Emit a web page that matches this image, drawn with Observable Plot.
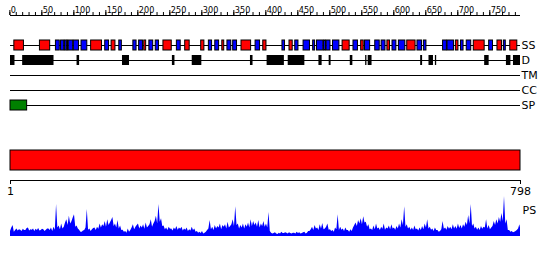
<!DOCTYPE html>
<html><head><meta charset="utf-8">
<script src="https://cdn.jsdelivr.net/npm/d3@7"></script>
<script src="https://cdn.jsdelivr.net/npm/@observablehq/plot@0.6"></script>
<style>
body{margin:0;background:#fff;}
#chart{position:relative;width:550px;height:260px;overflow:hidden;font-family:"DejaVu Sans",sans-serif;}
#chart svg{position:absolute;left:0;background:transparent;}
</style></head><body><div id="chart"></div>
<script>
const seqLength = 798;
const trackNames = ["SS","D","TM","CC","SP"];
const rulerLabels = [0,50,100,150,200,250,300,350,400,450,500,550,600,650,700,750];
const rulerMinor = d3.range(0, 791, 10);
const ssStart = [7,47,72,80,86,90,92,100,112,127,149,159,171,193,202,210,218,228,240,261,274,299,311,321,332,340,349,362,384,396,426,437,446,459,474,480,491,495,505,520,537,549,555,571,581,590,598,608,621,637,647,677,684,697,705,714,725,749,762,772,782];
const ssEnd   = [22,63,78,85,89,91,99,108,121,144,155,165,175,198,208,213,224,233,253,267,281,304,316,327,335,346,355,377,391,401,430,442,451,469,477,490,494,501,515,531,544,553,563,578,587,594,604,618,634,644,651,683,694,701,709,721,742,755,769,775,793];
const ssType  = ["H","H","E","E","E","H","E","E","E","H","E","H","E","E","E","H","E","E","H","E","H","H","E","E","H","E","E","H","E","H","E","H","E","E","E","E","E","E","E","H","E","H","E","E","E","H","E","E","H","E","E","E","E","H","E","E","H","E","H","E","H"];
const dStart = [1,20,105,176,254,285,376,402,435,483,499,532,556,560,642,655,665,742,776,787];
const dEnd   = [8,69,109,187,258,300,380,429,461,488,502,536,558,566,645,662,667,749,783,798];
const spStart = [1];
const spEnd = [27];
const psStep = 2;
const psValues = [
0.12,0.20,0.26,0.10,0.14,0.18,0.13,0.16,0.15,0.12,0.17,0.14,0.14,0.19,0.20,0.13,0.16,0.15,0.18,0.12,
0.17,0.14,0.19,0.13,0.14,0.17,0.16,0.12,0.15,0.18,0.18,0.14,0.20,0.12,0.22,0.15,0.76,0.20,0.25,0.16,
0.30,0.18,0.22,0.32,0.40,0.26,0.48,0.30,0.35,0.44,0.52,0.22,0.25,0.18,0.15,0.10,0.10,0.13,0.14,0.20,
0.64,0.15,0.18,0.12,0.16,0.19,0.20,0.14,0.22,0.17,0.30,0.20,0.28,0.24,0.36,0.22,0.40,0.26,0.32,0.38,
0.45,0.24,0.30,0.20,0.38,0.18,0.25,0.14,0.15,0.10,0.12,0.08,0.18,0.10,0.14,0.20,0.28,0.16,0.22,0.26,
0.30,0.18,0.25,0.20,0.28,0.17,0.32,0.20,0.24,0.28,0.40,0.22,0.30,0.36,0.48,0.30,0.76,0.34,0.42,0.24,
0.25,0.16,0.20,0.14,0.22,0.17,0.18,0.13,0.20,0.16,0.24,0.15,0.20,0.17,0.22,0.13,0.18,0.15,0.20,0.12,
0.16,0.13,0.22,0.14,0.18,0.10,0.12,0.08,0.10,0.07,0.12,0.06,0.08,0.10,0.14,0.18,0.38,0.16,0.22,0.14,
0.26,0.18,0.24,0.20,0.30,0.16,0.26,0.22,0.28,0.18,0.34,0.20,0.24,0.28,0.40,0.24,0.71,0.26,0.30,0.18,
0.26,0.20,0.30,0.18,0.28,0.22,0.32,0.20,0.40,0.24,0.36,0.26,0.32,0.22,0.38,0.20,0.30,0.24,0.36,0.22,
0.30,0.20,0.57,0.12,0.08,0.06,0.07,0.09,0.06,0.05,0.08,0.06,0.10,0.07,0.07,0.09,0.08,0.06,0.09,0.07,
0.06,0.08,0.08,0.06,0.10,0.07,0.09,0.06,0.07,0.09,0.10,0.06,0.08,0.12,0.12,0.16,0.22,0.14,0.26,0.18,
0.20,0.14,0.28,0.18,0.31,0.16,0.18,0.22,0.30,0.15,0.16,0.12,0.14,0.10,0.20,0.16,0.52,0.14,0.22,0.15,
0.18,0.12,0.20,0.14,0.14,0.10,0.16,0.12,0.20,0.26,0.32,0.24,0.38,0.30,0.42,0.28,0.47,0.32,0.34,0.22,
0.28,0.16,0.18,0.14,0.25,0.16,0.30,0.18,0.20,0.14,0.22,0.17,0.30,0.15,0.20,0.18,0.25,0.16,0.28,0.18,
0.20,0.15,0.24,0.18,0.30,0.20,0.40,0.26,0.71,0.22,0.28,0.18,0.22,0.15,0.20,0.14,0.25,0.16,0.18,0.13,
0.20,0.14,0.24,0.16,0.30,0.20,0.40,0.18,0.22,0.15,0.18,0.12,0.20,0.14,0.14,0.10,0.12,0.16,0.36,0.17,
0.20,0.15,0.24,0.17,0.22,0.16,0.28,0.18,0.24,0.17,0.30,0.19,0.26,0.18,0.28,0.22,0.34,0.26,0.50,0.30,
0.76,0.24,0.30,0.18,0.22,0.15,0.20,0.14,0.24,0.17,0.22,0.20,0.40,0.18,0.26,0.16,0.20,0.24,0.36,0.26,
0.40,0.30,0.45,0.34,0.55,0.36,0.95,0.30,0.40,0.14,0.14,0.10,0.12,0.09,0.10,0.12,0.14,0.18,0.28,0.20];

const ss = ssStart.map((s,i)=>({start:s,end:ssEnd[i],type:ssType[i]}));
const dis = dStart.map((s,i)=>({start:s,end:dEnd[i]}));
const sp = spStart.map((s,i)=>({start:s,end:spEnd[i]}));
const ps = psValues.map((v,i)=>({pos:Math.min(1+i*psStep, seqLength), v}));

const xScale = {domain:[1,seqLength], range:[10,520]};
const font = "DejaVu Sans, sans-serif";
const narrow = "'DejaVu Sans Condensed', 'Liberation Sans', sans-serif";
const chart = document.getElementById("chart");
function place(svg, top){ svg.style.top = top+"px"; chart.appendChild(svg); }

// ruler
place(Plot.plot({
  width:550, height:16, marginTop:0, marginBottom:1, marginLeft:10, marginRight:30,
  x:{...xScale, axis:null}, y:{domain:[0,1], range:[15,0], axis:null},
  style:{background:"transparent", fontFamily:narrow, fontSize:"9px", color:"black"},
  marks:[
    Plot.ruleY([0],{stroke:"black"}),
    Plot.tickX(rulerMinor,{x:d=>d, insetTop:12, stroke:"black"}),
    Plot.tickX(rulerLabels,{x:d=>d, insetTop:10, stroke:"black"}),
    Plot.text(rulerLabels,{x:d=>d, text:d=>String(d), frameAnchor:"bottom", textAnchor:"start", lineAnchor:"bottom", dy:-3, dx:1, fill:"black"})
  ]
}), 0);

// tracks
place(Plot.plot({
  width:550, height:100, marginTop:0, marginBottom:0, marginLeft:10, marginRight:30,
  x:{...xScale, axis:null},
  y:{type:"band", domain:trackNames, range:[17.5,92.5], paddingInner:1/3, paddingOuter:1/6, align:0.5, axis:null},
  style:{background:"transparent", fontFamily:font, fontSize:"11px", color:"black"},
  marks:[
    Plot.ruleY(trackNames,{y:d=>d, x1:()=>1, x2:()=>seqLength, stroke:"black"}),
    Plot.barX(dis,{x1:"start", x2:"end", y:()=>"D", fill:"black"}),
    Plot.barX(ss,{x1:"start", x2:"end", y:()=>"SS", fill:d=>d.type==="H"?"#ff0000":"#0000ff", stroke:"black", strokeWidth:1}),
    Plot.barX(sp,{x1:"start", x2:"end", y:()=>"SP", fill:"#008000", stroke:"black", strokeWidth:1}),
    Plot.text(trackNames,{x:()=>seqLength, y:d=>d, text:d=>d, textAnchor:"start", dx:1, fill:"black"})
  ]
}), 20);

// whole-sequence bar and axis
place(Plot.plot({
  width:550, height:60, marginTop:10, marginBottom:20, marginLeft:10, marginRight:30,
  x:xScale, y:{axis:null},
  style:{background:"transparent", fontFamily:font, fontSize:"11px", color:"black"},
  marks:[
    Plot.rectX([{start:1,end:seqLength}],{x1:"start", x2:"end", insetBottom:10, fill:"#ff0000", stroke:"black", strokeWidth:1}),
    Plot.frame({anchor:"bottom", stroke:"black"}),
    Plot.axisX([1,seqLength],{anchor:"bottom", tickSize:4, tickPadding:3, stroke:"black", strokeOpacity:1, fill:"black"})
  ]
}), 140);

// PS profile
place(Plot.plot({
  width:550, height:47, marginTop:4, marginBottom:1, marginLeft:10, marginRight:30,
  x:{...xScale, axis:null}, y:{domain:[0,1], axis:null},
  style:{background:"transparent", fontFamily:font, fontSize:"11px", color:"black"},
  marks:[
    Plot.areaY(ps,{x:"pos", y:"v", fill:"#0000ff"}),
    Plot.text(["PS"],{frameAnchor:"right", text:d=>d, textAnchor:"start", dx:2, dy:-5, fill:"black"})
  ]
}), 190);
</script></body></html>
